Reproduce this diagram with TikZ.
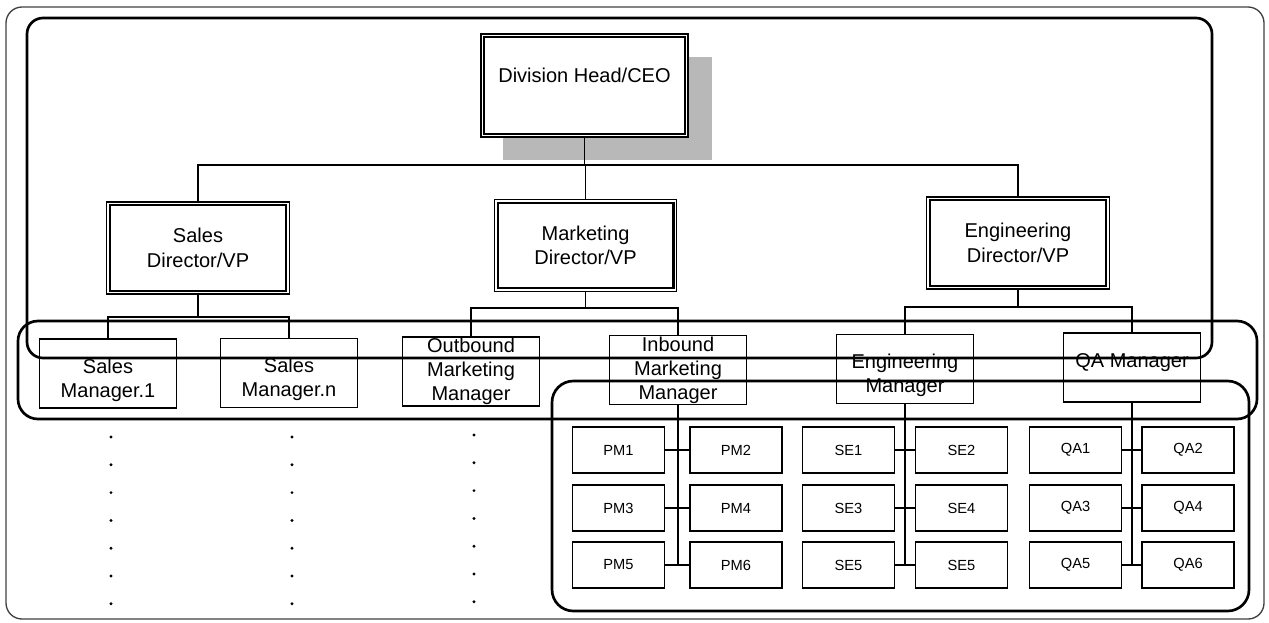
\documentclass[tikz,border=0pt]{standalone}
\usepackage{fontspec}
\setmainfont{Liberation Sans}
\begin{document}
\begin{tikzpicture}[x=0.75pt,y=-0.75pt,
  dbox/.style={draw, line width=0.9pt, fill=white, inner sep=0pt,
    font=\fontsize{15}{18.5}\selectfont, align=center,
    minimum width=137pt, minimum height=69pt},
  mbox/.style={draw, line width=1.3pt, fill=white, inner sep=0pt,
    font=\fontsize{15}{18}\selectfont, align=center,
    minimum width=102.75pt, minimum height=51.75pt},
  sbox/.style={draw, line width=1.3pt, fill=white, inner sep=0pt,
    font=\fontsize{11}{13}\selectfont,
    minimum width=69pt, minimum height=34.5pt},
  conn/.style={line width=0.8pt},
  grp/.style={line width=2pt, rounded corners=12pt},
]
\useasboundingbox (0,0) rectangle (1269,622);

% outer frame
\draw[line width=1pt, black!75, rounded corners=12pt] (6,7) rectangle (1264,619);

% shadow of CEO box
\fill[black!28] (503,57) rectangle (712,160);

% boxes
\node[dbox, minimum width=155.25pt, minimum height=77.25pt] (ceo) at (584.5,85.5)
  {Division Head/CEO\rule[-16pt]{0pt}{0pt}};
\node[dbox] (sd) at (198,248) {Sales\\Director/VP};
\node[dbox] (md) at (585.5,245.5) {Marketing\\Director/VP};
\node[dbox] (ed) at (1018,243) {Engineering\\Director/VP};
\foreach \n in {ceo,sd,md,ed}
  \draw[line width=1.6pt] ([shift={(4,4)}]\n.north west) rectangle ([shift={(-4,-4)}]\n.south east);

\node[mbox] (sm1) at (108,373.5) {\rule{0pt}{21pt}Sales\\Manager.1};
\node[mbox] (smn) at (289,373) {\rule{0pt}{21pt}Sales\\Manager.n};
\node[mbox] (om) at (471,371.5) {Outbound\\Marketing\\Manager};
\node[mbox] (im) at (678,370) {Inbound\\Marketing\\Manager};
\node[mbox] (em) at (905,369) {\rule{0pt}{21pt}Engineering\\Manager};
\node[mbox] (qam) at (1132,367.5) {QA Manager\rule[-10pt]{0pt}{0pt}};

\node[sbox] (pm1) at (618.5,450) {PM1};
\node[sbox] (pm2) at (736,450) {PM2};
\node[sbox] (pm3) at (618.5,508) {PM3};
\node[sbox] (pm4) at (736,508) {PM4};
\node[sbox] (pm5) at (618.5,565) {PM5};
\node[sbox] (pm6) at (736,565) {PM6};
\node[sbox] (se1) at (848.5,450) {SE1};
\node[sbox] (se2) at (961.5,450) {SE2};
\node[sbox] (se3) at (848.5,508) {SE3};
\node[sbox] (se4) at (961.5,508) {SE4};
\node[sbox] (se5) at (848.5,565) {SE5};
\node[sbox] (se6) at (961.5,565) {SE5};
\node[sbox] (qa1) at (1075.5,450) {QA1};
\node[sbox] (qa2) at (1188,450) {QA2};
\node[sbox] (qa3) at (1075.5,508) {QA3};
\node[sbox] (qa4) at (1188,508) {QA4};
\node[sbox] (qa5) at (1075.5,565) {QA5};
\node[sbox] (qa6) at (1188,565) {QA6};

% connectors
\coordinate (b1) at (584.5,165);
\coordinate (b2) at (198,317);
\coordinate (b3) at (585.5,308);
\coordinate (b4) at (1018,307);
\draw[conn] (ceo.south) -- (b1);
\draw[conn] (sd.north) |- (b1) -| (ed.north);
\draw[conn] (md.north) -- (md.north |- b1);
\draw[conn] (sd.south) -- (b2);
\draw[conn] (sm1.north) |- (b2) -| (smn.north);
\draw[conn] (md.south) -- (b3);
\draw[conn] (om.north) |- (b3) -| (im.north);
\draw[conn] (ed.south) -- (b4);
\draw[conn] (em.north) |- (b4) -| (qam.north);
\draw[conn] (im.south) -- (im.south |- pm5.east);
\draw[conn] (em.south) -- (em.south |- se5.east);
\draw[conn] (qam.south) -- (qam.south |- qa5.east);
\foreach \a/\b in {pm1/pm2,pm3/pm4,pm5/pm6,se1/se2,se3/se4,se5/se6,qa1/qa2,qa3/qa4,qa5/qa6}
  \draw[conn] (\a.east) -- (\b.west);

% dots
\foreach \x/\yo in {111/0,292/0,474/-2}
  \foreach \i in {0,...,6}
    \fill (\x,{437+\yo+27.8*\i}) circle (1.2pt);

% groups
\draw[grp] (27,18) rectangle (1212,358);
\draw[grp, rounded corners=15pt] (18,321) rectangle (1257,419);
\draw[grp, rounded corners=16pt] (552,381) rectangle (1249,611);
\end{tikzpicture}
\end{document}
